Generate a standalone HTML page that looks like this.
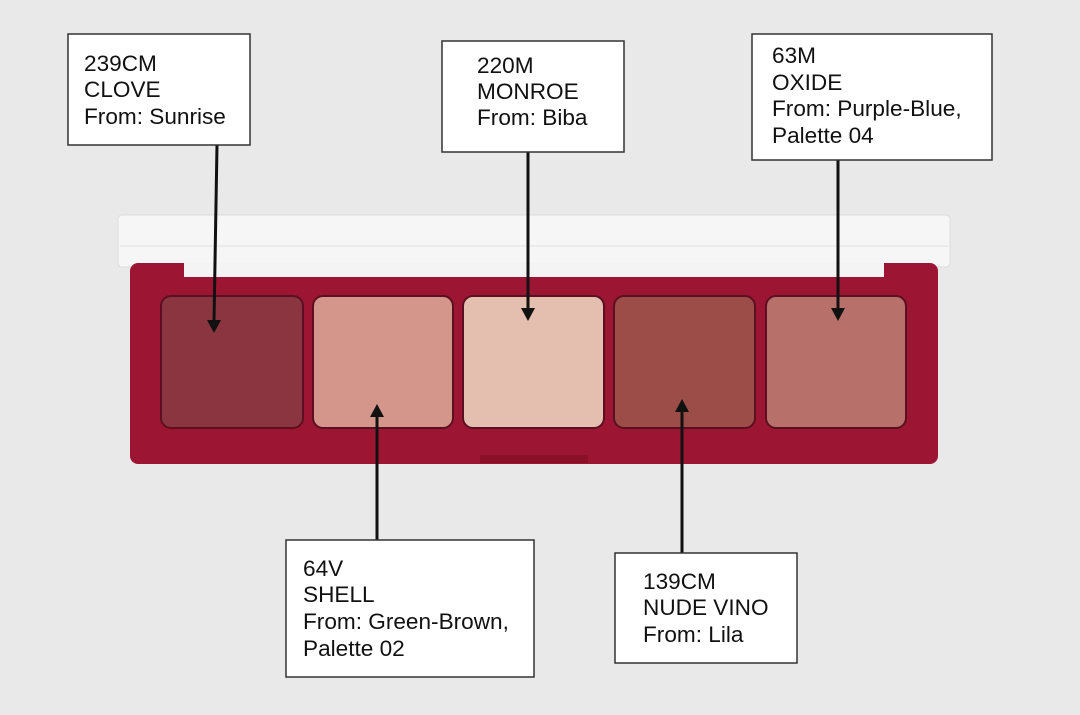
<!DOCTYPE html><html><head><style>body{margin:0;background:#e9e9e9}svg{display:block}text{font-family:"Liberation Sans",sans-serif;font-size:22.6px;fill:#111}</style></head><body>
<svg width="1080" height="715" viewBox="0 0 1080 715">
<rect width="1080" height="715" fill="#e9e9e9"/>
<rect x="118" y="215" width="832" height="52" rx="4" fill="#f6f6f6" stroke="#dcdcdc"/>
<line x1="120" y1="246" x2="948" y2="246" stroke="#e0e0e0"/>
<rect x="130" y="263" width="808" height="201" rx="8" fill="#9c1634"/>
<rect x="184" y="263" width="700" height="14" fill="#f4f4f4"/>
<rect x="480" y="455" width="108" height="8" fill="#8a1028"/>
<g stroke="#5a1020" stroke-width="2">
<rect x="161" y="296" width="142" height="132" rx="10" fill="#8a3540"/>
<rect x="313" y="296" width="140" height="132" rx="10" fill="#d4968a"/>
<rect x="463" y="296" width="141" height="132" rx="10" fill="#e4bfb0"/>
<rect x="614" y="296" width="141" height="132" rx="10" fill="#9c4d47"/>
<rect x="766" y="296" width="140" height="132" rx="10" fill="#b8716a"/>
</g>
<g stroke="#111" stroke-width="3" fill="none">
<line x1="217" y1="145" x2="214" y2="322"/>
<line x1="528" y1="152" x2="528" y2="310"/>
<line x1="838" y1="160" x2="838" y2="310"/>
<line x1="377" y1="540" x2="377" y2="415"/>
<line x1="682" y1="553" x2="682" y2="410"/>
</g>
<g fill="#111">
<polygon points="207,320 221,320 214,333"/>
<polygon points="521,308 535,308 528,321"/>
<polygon points="831,308 845,308 838,321"/>
<polygon points="370,417 384,417 377,404"/>
<polygon points="675,412 689,412 682,399"/>
</g>
<g fill="#fff" stroke="#333" stroke-width="1.5">
<rect x="68" y="34" width="182" height="111"/>
<rect x="442" y="41" width="182" height="111"/>
<rect x="752" y="34" width="240" height="126"/>
<rect x="286" y="540" width="248" height="137"/>
<rect x="615" y="553" width="182" height="110"/>
</g>
<text x="84" y="71">239CM</text><text x="84" y="97">CLOVE</text><text x="84" y="124">From: Sunrise</text>
<text x="477" y="73">220M</text><text x="477" y="99">MONROE</text><text x="477" y="125">From: Biba</text>
<text x="772" y="63">63M</text><text x="772" y="90">OXIDE</text><text x="772" y="116">From: Purple-Blue,</text><text x="772" y="143">Palette 04</text>
<text x="303" y="576">64V</text><text x="303" y="602">SHELL</text><text x="303" y="629">From: Green-Brown,</text><text x="303" y="656">Palette 02</text>
<text x="643" y="589">139CM</text><text x="643" y="615">NUDE VINO</text><text x="643" y="642">From: Lila</text>
</svg></body></html>
